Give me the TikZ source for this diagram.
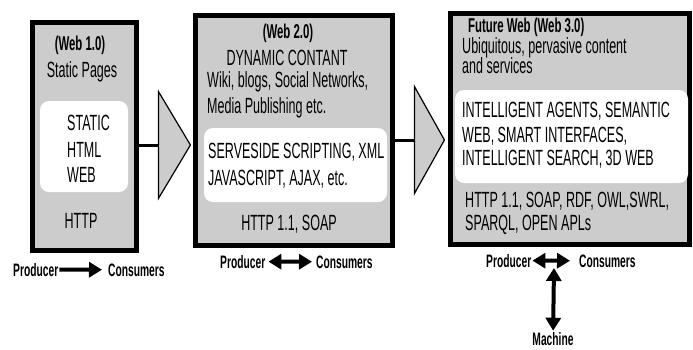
\documentclass[tikz,border=0pt]{standalone}
\usepackage{fontspec}
\usepackage{tikz}
\usetikzlibrary{arrows.meta,shapes.geometric,positioning}
\newfontfamily\webfont{Liberation Sans}[FakeStretch=0.57]
\definecolor{webgray}{RGB}{204,204,204}

\begin{document}
\begin{tikzpicture}[x=1pt, y=-1pt,
    era/.style={draw, line width=5pt, fill=webgray, inner sep=0pt},
    core/.style={fill=white, rounded corners=9pt, inner sep=0pt},
    txt/.style={inner sep=0pt, font=\webfont\fontsize{22}{25}\selectfont},
    ttl/.style={inner sep=0pt, font=\webfont\bfseries\fontsize{20}{23}\selectfont},
    lbl/.style={inner sep=1pt, font=\webfont\bfseries\fontsize{18}{21}\selectfont},
    push/.style={isosceles triangle, isosceles triangle stretches,
                 draw, line width=1.2pt, fill=webgray, inner sep=0pt, anchor=apex},
    link/.style={line width=3pt},
    fat/.style={line width=4pt, -{Triangle[length=13pt,width=15pt]}},
    fatboth/.style={line width=4pt,
                    {Triangle[length=13pt,width=15pt]}-{Triangle[length=13pt,width=15pt]}}
]
\useasboundingbox (0,0) rectangle (693,349);

% Web 1.0
\node[era, minimum width=104pt, minimum height=228pt] (box1) at (84.5,136.5) {};
\node[core, minimum width=88pt, minimum height=91pt] (core1) at (84,146.5) {};
\node[ttl, anchor=base] (ttl1) at (80,50) {(Web 1.0)};
\node[txt, anchor=base] (sub1) at (82,77) {Static Pages};
\node[txt, anchor=base west] (tech1a) at (67,130) {STATIC};
\node[txt, anchor=base west] (tech1b) at (67,157) {HTML};
\node[txt, anchor=base west] (tech1c) at (67,182) {WEB};
\node[txt, anchor=base] (proto1) at (81,228) {HTTP};

% Web 2.0
\node[era, minimum width=197pt, minimum height=230pt] (box2) at (294,130.5) {};
\node[core, minimum width=183pt, minimum height=74pt] (core2) at (295.5,165) {};
\node[ttl, anchor=base] (ttl2) at (288,38) {(Web 2.0)};
\node[txt, anchor=base] (sub2a) at (287,65) {DYNAMIC CONTANT};
\node[txt, anchor=base west] (sub2b) at (207,87) {Wiki, blogs, Social Networks,};
\node[txt, anchor=base west] (sub2c) at (207,113) {Media Publishing etc.};
\node[txt, anchor=base west] (tech2a) at (208,158) {SERVESIDE SCRIPTING, XML};
\node[txt, anchor=base west] (tech2b) at (208,185) {JAVASCRIPT, AJAX, etc.};
\node[txt, anchor=base] (proto2) at (289,230) {HTTP 1.1, SOAP};

% Web 3.0
\node[era, minimum width=239pt, minimum height=231pt] (box3) at (569.5,128.5) {};
\node[core, minimum width=233pt, minimum height=93pt] (core3) at (571.5,136.5) {};
\node[ttl, anchor=base west] (ttl3) at (468,32) {Future Web (Web 3.0)};
\node[txt, anchor=base west] (sub3a) at (462,53) {Ubiquitous, pervasive content};
\node[txt, anchor=base west] (sub3b) at (462,73) {and services};
\node[txt, anchor=base west] (tech3a) at (462,117) {INTELLIGENT AGENTS, SEMANTIC};
\node[txt, anchor=base west] (tech3b) at (462,142) {WEB, SMART INTERFACES,};
\node[txt, anchor=base west] (tech3c) at (462,165) {INTELLIGENT SEARCH, 3D WEB};
\node[txt, anchor=base west] (proto3a) at (465,207) {HTTP 1.1, SOAP, RDF, OWL,SWRL,};
\node[txt, anchor=base west] (proto3b) at (465,230) {SPARQL, OPEN APLs};

% big arrows between the eras
\node[push, minimum height=32pt, minimum width=107pt] (push1) at (192,145) {};
\node[push, minimum height=30pt, minimum width=107pt] (push2) at (446,140) {};
\draw[link] (box1.east |- push1.west) -- (push1.west);
\draw[link] (box2.east |- push2.west) -- (push2.west);

% who talks to whom
\node[lbl, anchor=base west] (prod1) at (12,276) {Producer};
\node[lbl, anchor=base west] (cons1) at (107,276) {Consumers};
\draw[fat, shorten >=5pt] (prod1) -- (cons1);

\node[lbl, anchor=base west] (prod2) at (219,268) {Producer};
\node[lbl, anchor=base west] (cons2) at (315,268) {Consumers};
\draw[fatboth, shorten <=2pt, shorten >=3pt] (prod2) -- (cons2);

\node[lbl, anchor=base west] (prod3) at (485,267) {Producer};
\node[lbl, anchor=base west] (cons3) at (578,267) {Consumers};
\draw[fatboth, shorten >=8pt] (prod3) -- (cons3);
\coordinate (hub3) at (554,268);
\node[lbl, anchor=base] (mach) at (553,345) {Machine};
\draw[fatboth] (hub3) -- (mach);
\end{tikzpicture}
\end{document}
